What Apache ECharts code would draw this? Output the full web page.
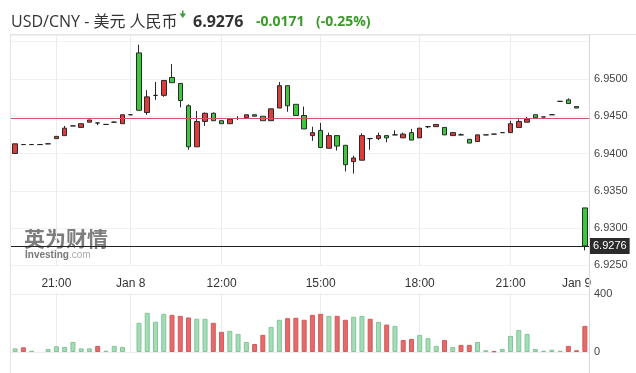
<!DOCTYPE html>
<html><head><meta charset="utf-8">
<script src="https://cdn.jsdelivr.net/npm/echarts@6/dist/echarts.min.js"></script>
<style>html,body{margin:0;padding:0;background:#fff}#c{width:636px;height:373px}</style>
</head><body><div id="c"></div>
<script>
const pairTitle = 'USD/CNY - 美元 人民币';
const lastPrice = 6.9276;
const prevClose = 6.9447;
const changeText = '-0.0171';
const changePctText = '(-0.25%)';
const xLabelIndex = [5, 14, 25, 37, 49, 60, 68];
const xLabelText = ['21:00', 'Jan 8', '12:00', '15:00', '18:00', '21:00', 'Jan 9'];
const gridLineIndex = [5, 14, 25, 37, 49, 60];
const priceTicks = [6.9250, 6.9300, 6.9350, 6.9400, 6.9450, 6.9500];
const volumeTicks = [0, 400];

const opens = [6.9400,6.9412,6.9412,6.9412,6.9413,6.9420,6.9424,6.9437,6.9435,6.9442,
  6.9441,6.9439,6.9442,6.9440,6.9452,6.9535,6.9455,6.9478,6.9478,6.9502,
  6.9494,6.9464,6.9409,6.9443,6.9454,6.9444,6.9440,6.9447,6.9448,6.9452,
  6.9450,6.9444,6.9461,6.9491,6.9466,6.9451,6.9424,6.9431,6.9407,6.9424,
  6.9411,6.9389,6.9391,6.9420,6.9420,6.9424,6.9425,6.9421,6.9428,6.9421,
  6.9436,6.9436,6.9435,6.9424,6.9425,6.9419,6.9416,6.9425,6.9426,6.9428,
  6.9428,6.9435,6.9442,6.9452,6.9449,6.9452,6.9470,6.9472,6.9463,6.9327];
const closes = [6.9413,6.9412,6.9412,6.9412,6.9413,6.9423,6.9434,6.9437,6.9440,6.9445,
  6.9441,6.9439,6.9442,6.9452,6.9452,6.9458,6.9476,6.9478,6.9498,6.9495,
  6.9471,6.9409,6.9443,6.9454,6.9444,6.9440,6.9446,6.9447,6.9452,6.9450,
  6.9444,6.9460,6.9491,6.9464,6.9451,6.9433,6.9428,6.9408,6.9424,6.9410,
  6.9385,6.9394,6.9424,6.9420,6.9424,6.9421,6.9425,6.9426,6.9418,6.9434,
  6.9436,6.9439,6.9425,6.9428,6.9425,6.9414,6.9425,6.9425,6.9426,6.9428,
  6.9440,6.9443,6.9446,6.9448,6.9449,6.9452,6.9470,6.9467,6.9461,6.9276];
const lows = [6.9400,6.9412,6.9412,6.9412,6.9413,6.9420,6.9424,6.9437,6.9435,6.9442,
  6.9438,6.9439,6.9442,6.9440,6.9452,6.9458,6.9452,6.9472,6.9476,6.9495,
  6.9462,6.9405,6.9409,6.9437,6.9444,6.9440,6.9440,6.9445,6.9448,6.9450,
  6.9444,6.9444,6.9461,6.9456,6.9451,6.9433,6.9417,6.9408,6.9407,6.9404,
  6.9376,6.9373,6.9391,6.9405,6.9418,6.9415,6.9425,6.9421,6.9418,6.9421,
  6.9434,6.9436,6.9425,6.9424,6.9425,6.9414,6.9416,6.9425,6.9426,6.9428,
  6.9428,6.9435,6.9442,6.9448,6.9449,6.9452,6.9470,6.9467,6.9461,6.9270];
const highs = [6.9413,6.9412,6.9412,6.9412,6.9414,6.9423,6.9437,6.9437,6.9440,6.9445,
  6.9441,6.9439,6.9443,6.9452,6.9452,6.9546,6.9485,6.9496,6.9498,6.9520,
  6.9494,6.9466,6.9457,6.9455,6.9455,6.9444,6.9446,6.9450,6.9452,6.9452,
  6.9450,6.9460,6.9496,6.9491,6.9466,6.9463,6.9436,6.9441,6.9428,6.9424,
  6.9411,6.9397,6.9427,6.9420,6.9428,6.9424,6.9431,6.9428,6.9433,6.9434,
  6.9436,6.9439,6.9435,6.9428,6.9427,6.9419,6.9425,6.9425,6.9426,6.9428,
  6.9444,6.9446,6.9449,6.9452,6.9449,6.9452,6.9470,6.9474,6.9463,6.9327];
const volumes = [25,32,9,0,21,39,35,69,25,25,
  42,9,42,35,0,201,270,208,263,256,
  249,238,229,229,201,139,146,125,69,55,
  118,173,222,233,236,222,256,263,249,249,
  222,243,249,229,208,189,180,83,90,118,
  95,42,83,35,49,49,69,12,5,21,
  111,152,125,21,9,16,9,42,12,180];
const volumeRed = [0,1,0,0,0,0,0,0,0,0,
  1,0,0,0,0,0,0,0,0,1,
  1,1,0,0,1,1,0,0,0,1,
  1,0,0,1,1,1,1,1,0,1,
  1,0,0,1,0,1,0,1,1,0,
  0,0,1,0,1,1,0,0,1,0,
  0,0,0,0,0,0,0,1,1,1];

const categories = opens.map((_, i) => {
  const k = xLabelIndex.indexOf(i);
  return k >= 0 ? xLabelText[k] : '';
});
const candleData = opens.map((o, i) => [o, closes[i], lows[i], highs[i]]);
const volData = volumes.map((v, i) => ({
  value: v > 0 ? v : '-',
  itemStyle: volumeRed[i]
    ? { color: '#e36b6b', borderColor: '#d65a5a', borderWidth: 1 }
    : { color: '#a5dbb5', borderColor: '#82c59a', borderWidth: 1 }
}));

const chart = echarts.init(document.getElementById('c'), null, { renderer: 'canvas' });
const font = '"Liberation Sans", Arial, sans-serif';
const option = {
  animation: false,
  grid: [
    { left: 11, right: 47, top: 35, bottom: 107.7 },
    { left: 11, right: 47, top: 292.5, bottom: 21 }
  ],
  xAxis: [
    { type: 'category', gridIndex: 0, data: categories, boundaryGap: true,
      axisLine: { show: false }, axisTick: { show: false }, splitLine: { show: false },
      axisLabel: { interval: 0, margin: 12, fontSize: 12, color: '#333', fontFamily: font } },
    { type: 'category', gridIndex: 1, data: categories, boundaryGap: true,
      axisLine: { show: false }, axisTick: { show: false }, splitLine: { show: false },
      axisLabel: { show: false } }
  ],
  yAxis: [
    { type: 'value', gridIndex: 0, position: 'right', min: 6.9250, max: 6.9559, interval: 0.005,
      axisLine: { show: false }, axisTick: { show: false },
      splitLine: { lineStyle: { color: '#f1f1f1' } },
      axisLabel: { margin: 5, fontSize: 11, color: '#444', fontFamily: font, showMinLabel: true,
        formatter: v => priceTicks.some(t => Math.abs(t - v) < 1e-7) ? v.toFixed(4) : '' } },
    { type: 'value', gridIndex: 1, position: 'right', min: 0, max: 410, interval: 400,
      axisLine: { show: false }, axisTick: { show: false },
      splitLine: { show: false }, axisLabel: { show: false } }
  ],
  series: [
    { type: 'line', xAxisIndex: 0, yAxisIndex: 0, data: [], silent: true, z: 1,
      markLine: { silent: true, symbol: ['none', 'none'], z: 1, label: { show: false },
        lineStyle: { color: '#ececec', type: 'solid', width: 1 },
        data: gridLineIndex.map(i => ({ xAxis: i })) } },
    { type: 'line', xAxisIndex: 1, yAxisIndex: 1, data: [], silent: true, z: 1, clip: false,
      markLine: { silent: true, symbol: ['none', 'none'], z: 1, precision: 0,
        lineStyle: { color: '#ececec', type: 'solid', width: 1 },
        data: volumeTicks.map(v => ({ yAxis: v,
            label: { show: true, position: 'end', distance: 5, formatter: String(v),
              color: '#444', fontSize: 11, fontFamily: font } }))
          .concat(gridLineIndex.map(i => ({ xAxis: i, label: { show: false } }))) } },
    { type: 'candlestick', xAxisIndex: 0, yAxisIndex: 0, barWidth: 5, data: candleData,
      itemStyle: { color: '#de3b3b', color0: '#3fc63f', borderColor: '#2a2a2a', borderColor0: '#2a2a2a',
        borderColorDoji: '#222', borderWidth: 1 },
      markLine: { silent: true, symbol: ['none', 'none'], z: 5, precision: 4,
        data: [
          { yAxis: prevClose, lineStyle: { color: '#cc5566', width: 1, type: 'solid' }, label: { show: false } },
          { yAxis: lastPrice, lineStyle: { color: '#222', width: 1, type: 'solid' },
            label: { show: true, position: 'end', distance: 1, formatter: lastPrice.toFixed(4),
              color: '#fff', backgroundColor: '#2b2b2b', padding: [3, 3, 2, 3], fontSize: 11, fontFamily: font } }
        ] } },
    { type: 'bar', xAxisIndex: 1, yAxisIndex: 1, barWidth: 5, data: volData }
  ],
  graphic: [
    { type: 'line', shape: { x1: 11, y1: 34.5, x2: 636, y2: 34.5 }, style: { stroke: '#e3e3e3', lineWidth: 1 }, z: 10 },
    { type: 'line', shape: { x1: 10.5, y1: 34, x2: 10.5, y2: 373 }, style: { stroke: '#e3e3e3', lineWidth: 1 }, z: 10 },
    { type: 'line', shape: { x1: 589.5, y1: 34, x2: 589.5, y2: 373 }, style: { stroke: '#d8d8d8', lineWidth: 1 }, z: 10 },
    { type: 'text', x: 11, y: 22, style: { text: pairTitle, font: '16px "Open Sans", "Noto Sans CJK SC", sans-serif', fill: '#333', verticalAlign: 'middle', textVerticalAlign: 'middle' }, z: 10 },
    { type: 'polygon', shape: { points: [[179.5, 13.5], [186, 13.5], [182.75, 18]] }, style: { fill: '#3a9d3a' }, z: 10 },
    { type: 'rect', shape: { x: 182, y: 10.5, width: 1.5, height: 3.5 }, style: { fill: '#3a9d3a' }, z: 10 },
    { type: 'text', x: 193, y: 22, style: { text: lastPrice.toFixed(4), font: 'bold 16px "Open Sans", sans-serif', fill: '#333', verticalAlign: 'middle', textVerticalAlign: 'middle' }, z: 10 },
    { type: 'text', x: 256, y: 22.5, style: { text: changeText, font: 'bold 14px "Open Sans", sans-serif', fill: '#3a9a2a', verticalAlign: 'middle', textVerticalAlign: 'middle' }, z: 10 },
    { type: 'text', x: 316, y: 22.5, style: { text: changePctText, font: 'bold 14px "Open Sans", sans-serif', fill: '#3a9a2a', verticalAlign: 'middle', textVerticalAlign: 'middle' }, z: 10 },
    { type: 'text', x: 24, y: 228, style: { text: '英为财情', font: 'bold 21px "Noto Sans CJK SC", sans-serif', fill: '#666', opacity: 0.85, verticalAlign: 'top', textVerticalAlign: 'top' }, z: 0 },
    { type: 'text', x: 25, y: 250, style: { text: 'Investing', font: 'bold 10px "Liberation Sans", Arial, sans-serif', fill: '#777', verticalAlign: 'top', textVerticalAlign: 'top' }, z: 0 },
    { type: 'text', x: 69, y: 250, style: { text: '.com', font: '10px "Liberation Sans", Arial, sans-serif', fill: '#aaa', verticalAlign: 'top', textVerticalAlign: 'top' }, z: 0 }
  ]
};
chart.setOption(option);
</script>
</body></html>
